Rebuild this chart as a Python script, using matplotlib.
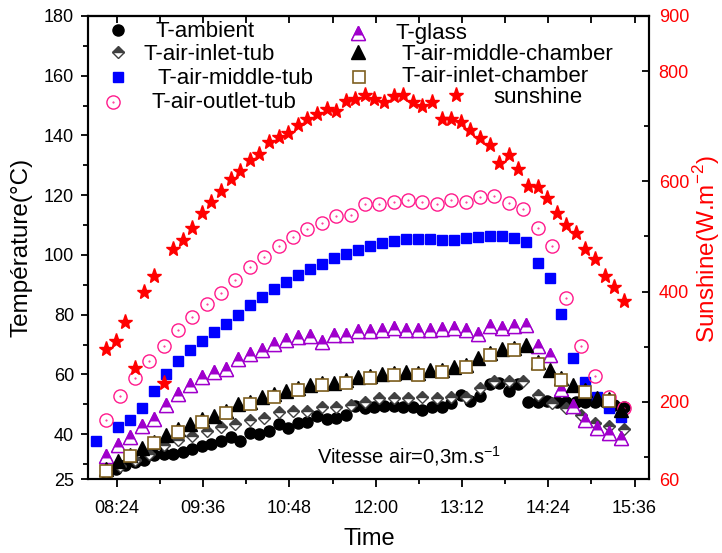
import numpy as np
import matplotlib
matplotlib.use("Agg")
import matplotlib.pyplot as plt
from matplotlib.path import Path

plt.rcParams['font.family'] = ['Liberation Sans', 'DejaVu Sans']

# sampling clocks in minutes after midnight (first reading 08:15)
t8 = np.arange(495, 495 + 8 * 55, 8)        # ambient probe and pyranometer
t10 = np.arange(495, 495 + 10 * 44, 10)     # glass, middle of chamber
t12 = np.arange(495, 495 + 12 * 37, 12)     # tube inlet and outlet
t20 = np.arange(495, 495 + 20 * 22, 20)     # chamber inlet
t_mid_tub = np.r_[487, np.arange(505, 505 + 10 * 43, 10)]

t_ambient = [27.0, 28.4, 29.6, 30.7, 31.4, 32.9, 33.3, 33.5, 34.0, 35.0,
             35.9, 36.8, 37.6, 38.9, 37.7, 40.3, 40.0, 41.0, 43.5, 42.1,
             43.8, 44.1, 46.0, 45.1, 45.3, 46.3, 49.5, 48.7, 49.2, 49.6,
             49.6, 49.0, 49.0, 48.1, 49.0, 49.0, 50.5, 53.1, 51.2, 52.7,
             56.8, 57.0, 54.4, 56.7, 50.9, 50.7, 51.1, 50.7, 50.7, 50.9,
             50.7, 50.7, 50.7, 49.8, 49.2]
t_inlet_tub = [27.5, 29.5, 31.5, 33.5, 36.5, 38.0, 39.5, 41.0, 42.3, 43.3,
               44.8, 45.3, 47.3, 47.6, 47.6, 49.2, 49.2, 49.8, 50.9, 52.2,
               52.2, 52.2, 52.6, 52.0, 52.6, 52.6, 55.3, 57.8, 57.8, 57.8,
               53.1, 50.3, 48.7, 46.4, 43.7, 42.6, 41.8]
t_middle_tub = [37.8, 42.4, 44.8, 48.9, 54.6, 60.3, 64.6, 68.3, 71.1, 74.2,
                76.8, 80.0, 83.1, 85.9, 88.7, 91.1, 93.3, 95.3, 97.0, 98.9,
                100.2, 101.5, 103.1, 104.0, 104.6, 105.3, 105.3, 105.3, 105.0, 105.0,
                105.6, 105.9, 106.4, 106.4, 105.6, 104.4, 97.2, 92.4, 80.1, 65.6,
                57.4, 52.4, 48.8, 45.6]
t_outlet_tub = [44.6, 52.8, 58.7, 64.6, 69.6, 74.9, 79.2, 83.6, 87.3, 91.7,
                96.0, 99.2, 103.0, 105.9, 108.7, 110.6, 112.9, 113.3, 117.0, 117.2,
                117.6, 118.4, 117.6, 117.2, 118.3, 117.8, 119.4, 119.6, 117.3, 115.3,
                108.9, 103.1, 85.7, 69.4, 59.6, 52.5, 48.9]
t_glass = [32.6, 36.4, 38.9, 42.7, 45.0, 49.8, 53.4, 56.6, 59.2, 60.9,
           61.8, 65.3, 66.7, 68.1, 70.1, 71.4, 72.6, 72.8, 70.9, 73.1,
           73.1, 74.4, 74.4, 75.0, 75.7, 75.0, 75.0, 75.0, 75.3, 75.7,
           74.8, 73.7, 76.2, 75.7, 76.2, 76.4, 69.4, 66.4, 55.0, 49.6,
           44.8, 42.0, 40.4, 38.8]
t_middle_chamber = [28.3, 31.0, 33.0, 35.3, 37.4, 39.8, 41.8, 43.4, 45.0, 46.2,
                    47.8, 50.1, 50.8, 52.3, 53.3, 54.5, 55.4, 56.5, 57.2, 57.0,
                    58.0, 59.2, 59.5, 60.3, 60.5, 60.9, 60.5, 61.4, 61.4, 62.6,
                    63.3, 65.6, 67.2, 68.4, 68.8, 69.8, 64.2, 61.6, 58.8, 56.5,
                    54.7, 52.1, 51.8, 48.1]
t_inlet_chamber = [27.8, 32.7, 37.1, 40.8, 44.2, 47.1, 50.0, 52.6, 54.7, 56.6,
                   57.3, 58.8, 59.8, 59.9, 60.7, 62.5, 66.4, 68.1, 63.5, 58.1,
                   54.1, 51.2]
sunshine = [296, 311, 345, 261, 400, 428, 234, 477, 494, 516,
            543, 563, 583, 605, 619, 639, 649, 671, 681, 687,
            702, 713, 722, 731, 727, 746, 749, 757, 750, 744,
            754, 757, 744, 736, 744, 714, 713, 708, 693, 678,
            666, 634, 648, 623, 592, 589, 569, 543, 521, 506,
            477, 459, 429, 409, 383]

x_ticks = [504, 576, 648, 720, 792, 864, 936]
x_tick_labels = ['08:24', '09:36', '10:48', '12:00', '13:12', '14:24', '15:36']
x_minor = [540, 612, 684, 756, 828, 900]
y_ticks = [25, 40, 60, 80, 100, 120, 140, 160, 180]
y_minor = [30, 50, 70, 90, 110, 130, 150, 170]
y2_ticks = [60, 200, 400, 600, 800, 900]
y2_minor = [100, 300, 500, 700]

PINK = '#ff1a8c'
PURPLE = '#a000cc'
BROWN = '#7f6020'
GREY = '#404040'

# white strip across the base of an up-triangle (same frame as the '^' marker)
base_strip = Path([(-1, -1), (1, -1), (0.65, -0.3), (-0.65, -0.3), (-1, -1)],
                  [Path.MOVETO, Path.LINETO, Path.LINETO, Path.LINETO,
                   Path.CLOSEPOLY])

fig = plt.figure(figsize=(7.22, 5.53), dpi=100)
ax = fig.add_axes([88 / 722, 74 / 553, 561 / 722, 463 / 553])
ax2 = ax.twinx()

styles = {
    'amb': [dict(marker='o', ms=8, color='black', ls='none')],
    'in_tub': [dict(marker='D', ms=6.3, color=GREY, mec=GREY, fillstyle='top',
                    markerfacecoloralt='white', mew=1, ls='none')],
    'mid_tub': [dict(marker='s', ms=7.5, color='#0000ff', mec='#0000ff', ls='none')],
    'out_tub': [dict(marker='o', ms=9.5, mfc='none', mec=PINK, mew=1, ls='none'),
                dict(marker='.', ms=1, color=PINK, ls='none')],
    'glass': [dict(marker='^', ms=9.5, color=PURPLE, mec=PURPLE, mew=1, ls='none'),
              dict(marker=base_strip, ms=9.5, mfc='white', mec='none', ls='none'),
              dict(marker='^', ms=9.5, mfc='none', mec=PURPLE, mew=1, ls='none')],
    'mid_ch': [dict(marker='^', ms=9.5, color='black', ls='none')],
    'in_ch': [dict(marker='s', ms=8, mfc='white', mec=BROWN, mew=1.2, ls='none')],
    'sun': [dict(marker='*', ms=11, color='red', mec='red', ls='none')],
}


def draw(a, x, y, key, **kw):
    for st in styles[key]:
        a.plot(x, y, **st, **kw)


draw(ax, t8, t_ambient, 'amb')
draw(ax, t12, t_inlet_tub, 'in_tub')
draw(ax, t_mid_tub, t_middle_tub, 'mid_tub')
draw(ax, t12, t_outlet_tub, 'out_tub')
draw(ax, t10, t_glass, 'glass')
draw(ax, t10, t_middle_chamber, 'mid_ch')
draw(ax, t20, t_inlet_chamber, 'in_ch')
draw(ax2, t8, sunshine, 'sun')

ax.set_xlim(480, 948)
ax.set_ylim(25, 180)
ax2.set_ylim(60, 900)

ax.set_xticks(x_ticks)
ax.set_xticklabels(x_tick_labels)
ax.set_xticks(x_minor, minor=True)
ax.set_yticks(y_ticks)
ax.set_yticks(y_minor, minor=True)
ax2.set_yticks(y2_ticks)
ax2.set_yticks(y2_minor, minor=True)

ax.tick_params(axis='x', which='major', direction='out', length=6, width=1.3,
               pad=9, labelsize=13)
ax.tick_params(axis='x', which='minor', direction='out', length=3.5, width=1.3)
ax.tick_params(axis='y', which='major', direction='out', length=5, width=1.3,
               pad=5, labelsize=13)
ax.tick_params(axis='y', which='minor', direction='out', length=3.5, width=1.3)
ax2.tick_params(axis='y', which='major', direction='in', length=5, width=1.3,
                pad=7, labelsize=13, labelcolor='red')
ax2.tick_params(axis='y', which='minor', direction='in', length=3.5, width=1.3)

top = ax.secondary_xaxis('top')
top.set_xticks(x_ticks + x_minor)
top.tick_params(direction='in', length=5, width=1.3, labeltop=False)

for a in (ax, ax2):
    for s in a.spines.values():
        s.set_linewidth(1.5)
top.spines['top'].set_linewidth(1.5)

# axis titles
fig.text(22 / 722, 1 - 247 / 553, 'Température(°C)', rotation=90,
         ha='center', va='center', fontsize=17.5)
fig.text(707 / 722, 1 - 249 / 553, r'Sunshine(W.m$^{\mathregular{-2}}$)',
         rotation=90, ha='center', va='center', fontsize=17.5, color='red')
fig.text(369 / 722, 1 - 539 / 553, 'Time', ha='center', va='center', fontsize=17)
fig.text(317 / 722, 1 - 463 / 553, r'Vitesse air=0,3m.s$^{\mathregular{-1}}$',
         ha='left', va='baseline', fontsize=14.5)


# hand placed legend, two columns
def frac(px, py):
    return (px - 88) / 561, (479 - py) / 463


legend_rows = [
    ('amb', 'T-ambient', (118, 30), (156, 37)),
    ('in_tub', 'T-air-inlet-tub', (118, 52), (144, 60)),
    ('mid_tub', 'T-air-middle-tub', (118, 77), (157, 84)),
    ('out_tub', 'T-air-outlet-tub', (113, 102), (152, 108)),
    ('glass', 'T-glass', (358, 33), (396, 39)),
    ('mid_ch', 'T-air-middle-chamber', (358, 52), (401, 60)),
    ('in_ch', 'T-air-inlet-chamber', (359, 77), (401, 82)),
    ('sun', 'sunshine', (456, 95), (493, 103)),
]
for key, label, mpos, tpos in legend_rows:
    mx, my = frac(*mpos)
    draw(ax2, [mx], [my], key, transform=ax.transAxes, clip_on=False)
    tx, ty = frac(*tpos)
    ax2.text(tx, ty, label, transform=ax.transAxes, ha='left', va='baseline',
             fontsize=16)

fig.savefig('out.png', dpi=100)
